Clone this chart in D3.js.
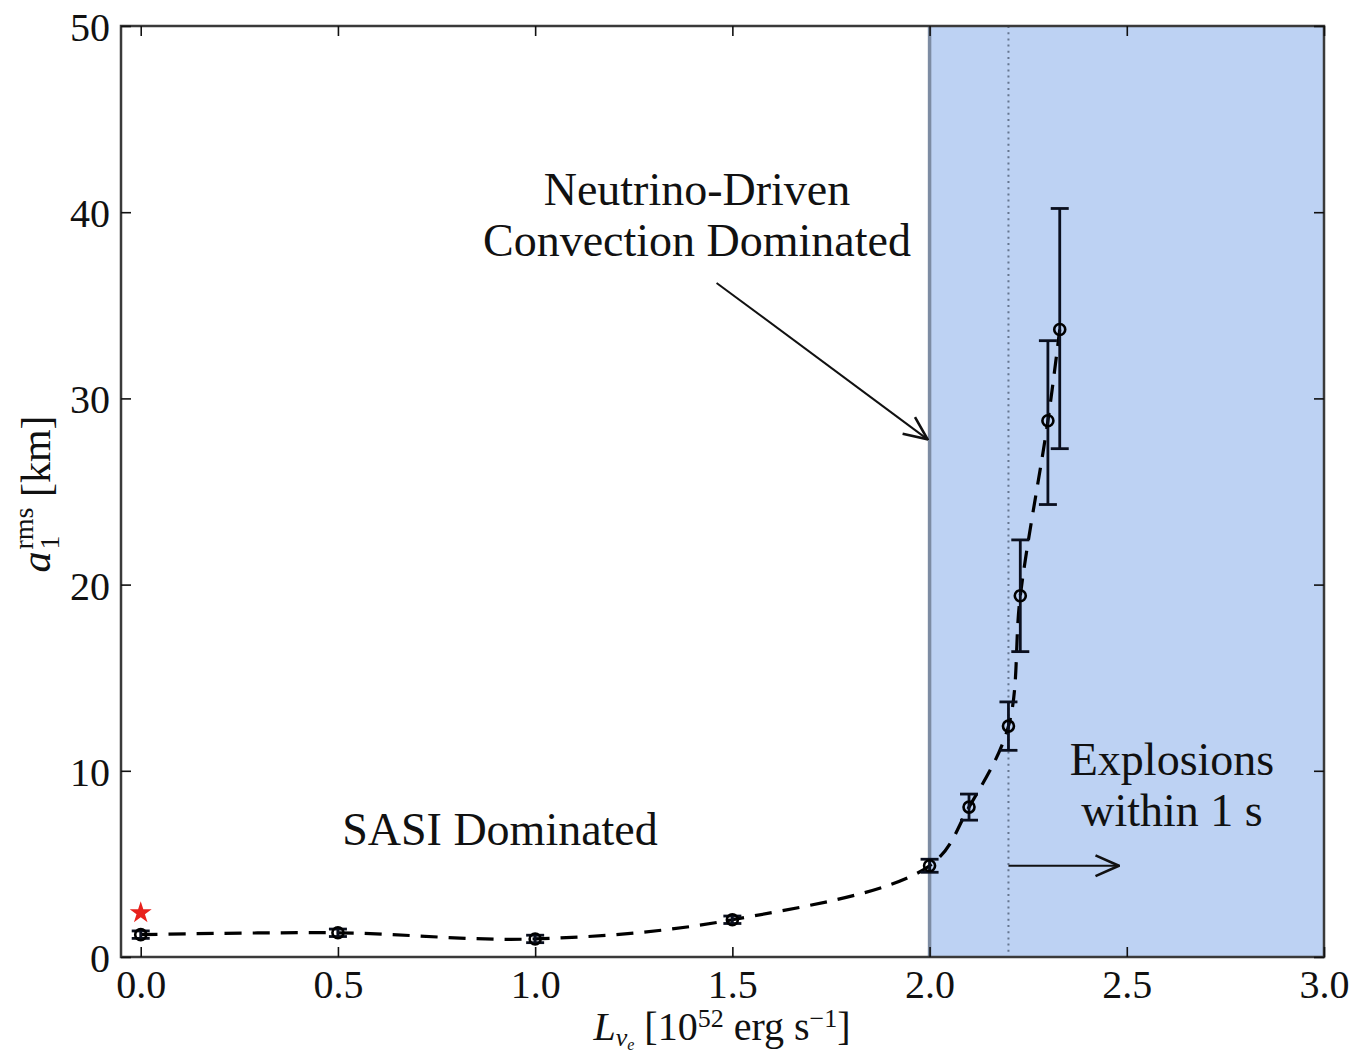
<!DOCTYPE html>
<html>
<head>
<meta charset="utf-8">
<script src="https://cdn.jsdelivr.net/npm/d3@7"></script>
<style>
  html, body { margin: 0; padding: 0; background: #fff; }
  svg { display: block; }
  text { font-family: "Liberation Serif", "DejaVu Serif", serif; fill: #111; }
</style>
</head>
<body>
<svg id="chart" width="1358" height="1057"></svg>
<script>
// ---- data ----
const luminosity = [0.0, 0.5, 1.0, 1.5, 2.0, 2.1, 2.2, 2.23, 2.3, 2.33];
const a1rms      = [1.2, 1.3, 0.97, 2.0, 4.9, 8.05, 12.4, 19.4, 28.8, 33.7];
const errLow     = [0.2, 0.2, 0.2, 0.2, 0.35, 0.7, 1.3, 3.0, 4.5, 6.4];
const errHigh    = [0.2, 0.2, 0.2, 0.2, 0.35, 0.7, 1.3, 3.0, 4.3, 6.5];
const starPoint  = [0.0, 2.37];
const xTicks = [0.0, 0.5, 1.0, 1.5, 2.0, 2.5, 3.0];
const yTicks = [0, 10, 20, 30, 40, 50];
const shadeRange = [2.0, 3.0];
const thresholdLine = 2.2;
const annotNeutrinoText = ["Neutrino-Driven", "Convection Dominated"];
const annotNeutrinoArrow = {from: [1.46, 36.2], to: [1.995, 27.8]};
const annotSASI = "SASI Dominated";
const annotExplosion = ["Explosions", "within 1 s"];
const explosionArrow = {from: [2.2, 4.9], to: [2.48, 4.9]};

// ---- layout ----
const svg = d3.select("#chart");
const x = d3.scaleLinear().domain([-0.05, 3.0]).range([121, 1324]);
const y = d3.scaleLinear().domain([0, 50]).range([957, 26]);
const [x0, x1] = x.range();
const [y0, y1] = y.range();

// arrow marker
const defs = svg.append("defs");
defs.append("marker")
  .attr("id", "arrowOpen")
  .attr("viewBox", "0 0 20 20")
  .attr("refX", 19).attr("refY", 10)
  .attr("markerWidth", 26).attr("markerHeight", 26)
  .attr("markerUnits", "userSpaceOnUse")
  .attr("orient", "auto")
  .append("path")
  .attr("d", "M1,2 L19,10 L1,18")
  .attr("fill", "none").attr("stroke", "#111").attr("stroke-width", 2);

// shaded region
svg.append("rect")
  .attr("x", x(shadeRange[0])).attr("y", y1)
  .attr("width", x(shadeRange[1]) - x(shadeRange[0]))
  .attr("height", y0 - y1)
  .attr("fill", "#bdd2f3");

// vertical solid line at 2.0
svg.append("line")
  .attr("x1", x(shadeRange[0])).attr("x2", x(shadeRange[0]))
  .attr("y1", y1).attr("y2", y0)
  .attr("stroke", "#7d8ca3").attr("stroke-width", 3.5);

// dotted line at 2.2
svg.append("line")
  .attr("x1", x(thresholdLine)).attr("x2", x(thresholdLine))
  .attr("y1", y1).attr("y2", y0)
  .attr("stroke", "#66768f").attr("stroke-width", 2)
  .attr("stroke-dasharray", "2,4.2");

// data
const data = luminosity.map((l, i) => ({l, v: a1rms[i], lo: errLow[i], hi: errHigh[i]}));

// dashed curve
const line = d3.line().x(d => x(d.l)).y(d => y(d.v)).curve(d3.curveCatmullRom.alpha(0.5));
svg.append("path")
  .datum(data)
  .attr("d", line)
  .attr("fill", "none").attr("stroke", "#000")
  .attr("stroke-width", 3.2)
  .attr("stroke-dasharray", "17,11");

// error bars
const eb = svg.append("g").attr("stroke", "#0a0f1e").attr("stroke-width", 2.8);
data.forEach(d => {
  eb.append("line").attr("x1", x(d.l)).attr("x2", x(d.l))
    .attr("y1", y(d.v - d.lo)).attr("y2", y(d.v + d.hi));
  [d.v - d.lo, d.v + d.hi].forEach(c => {
    eb.append("line").attr("x1", x(d.l) - 9).attr("x2", x(d.l) + 9)
      .attr("y1", y(c)).attr("y2", y(c));
  });
});

// markers
svg.append("g").selectAll("circle").data(data).join("circle")
  .attr("cx", d => x(d.l)).attr("cy", d => y(d.v)).attr("r", 5.5)
  .attr("fill", "none").attr("stroke", "#000").attr("stroke-width", 2.6);

// red star
svg.append("path")
  .attr("d", d3.symbol().type(d3.symbolStar).size(150)())
  .attr("transform", `translate(${x(starPoint[0])},${y(starPoint[1])})`)
  .attr("fill", "#e8211c");

// spines
svg.append("rect")
  .attr("x", x0).attr("y", y1).attr("width", x1 - x0).attr("height", y0 - y1)
  .attr("fill", "none").attr("stroke", "#3a3a3a").attr("stroke-width", 2.5);

// axes (inward ticks)
function styleAxis(g) {
  g.select(".domain").remove();
  g.selectAll(".tick line").attr("stroke", "#111").attr("stroke-width", 1.6);
  g.selectAll(".tick text")
    .attr("font-family", "'Liberation Serif', serif")
    .attr("font-size", 40).attr("fill", "#222");
}
svg.append("g").attr("transform", `translate(0,${y0})`)
  .call(d3.axisBottom(x).tickValues(xTicks).tickFormat(d3.format(".1f"))
    .tickSizeInner(-10).tickSizeOuter(0).tickPadding(12))
  .call(styleAxis)
  .call(g => g.selectAll(".tick text").attr("dy", "0.72em"));
svg.append("g").attr("transform", `translate(0,${y1})`)
  .call(d3.axisTop(x).tickValues(xTicks).tickFormat("").tickSizeInner(-10).tickSizeOuter(0))
  .call(styleAxis);
svg.append("g").attr("transform", `translate(${x0},0)`)
  .call(d3.axisLeft(y).tickValues(yTicks).tickFormat(d3.format("d"))
    .tickSizeInner(-10).tickSizeOuter(0).tickPadding(11))
  .call(styleAxis)
  .call(g => g.selectAll(".tick text").attr("dy", "0.36em"));
svg.append("g").attr("transform", `translate(${x1},0)`)
  .call(d3.axisRight(y).tickValues(yTicks).tickFormat("").tickSizeInner(-10).tickSizeOuter(0))
  .call(styleAxis);

// annotations
const fs = 46;
const nd = svg.append("text").attr("text-anchor", "middle").attr("font-size", fs).attr("fill", "#222");
nd.append("tspan").attr("x", 697).attr("y", 205).text(annotNeutrinoText[0]);
nd.append("tspan").attr("x", 697).attr("y", 256).text(annotNeutrinoText[1]);
svg.append("line")
  .attr("x1", x(annotNeutrinoArrow.from[0])).attr("y1", y(annotNeutrinoArrow.from[1]))
  .attr("x2", x(annotNeutrinoArrow.to[0])).attr("y2", y(annotNeutrinoArrow.to[1]))
  .attr("stroke", "#111").attr("stroke-width", 2).attr("marker-end", "url(#arrowOpen)");

svg.append("text").attr("text-anchor", "middle").attr("font-size", fs).attr("fill", "#222")
  .attr("x", 500).attr("y", 845).text(annotSASI);

const ex = svg.append("text").attr("text-anchor", "middle").attr("font-size", fs).attr("fill", "#1a1f33");
ex.append("tspan").attr("x", 1172).attr("y", 775).text(annotExplosion[0]);
ex.append("tspan").attr("x", 1172).attr("y", 826).text(annotExplosion[1]);
svg.append("line")
  .attr("x1", x(explosionArrow.from[0])).attr("y1", y(explosionArrow.from[1]))
  .attr("x2", x(explosionArrow.to[0])).attr("y2", y(explosionArrow.to[1]))
  .attr("stroke", "#111").attr("stroke-width", 2).attr("marker-end", "url(#arrowOpen)");

// axis labels
const xl = svg.append("text").attr("text-anchor", "middle").attr("font-size", 40)
  .attr("x", 722).attr("y", 1040).attr("fill", "#222");
xl.append("tspan").attr("font-style", "italic").text("L");
xl.append("tspan").attr("font-style", "italic").attr("font-size", 26).attr("dy", 6).text("ν");
xl.append("tspan").attr("font-style", "italic").attr("font-size", 16).attr("dy", 4).text("e");
xl.append("tspan").attr("dy", -10).text(" [10");
xl.append("tspan").attr("font-size", 26).attr("dy", -13).text("52");
xl.append("tspan").attr("dy", 13).text(" erg s");
xl.append("tspan").attr("font-size", 26).attr("dy", -13).text("−1");
xl.append("tspan").attr("dy", 13).text("]");

const yl = svg.append("text").attr("text-anchor", "middle").attr("font-size", 42)
  .attr("transform", "translate(50,494) rotate(-90)").attr("fill", "#222");
yl.append("tspan").attr("font-style", "italic").text("a");
yl.append("tspan").attr("font-size", 28).attr("dy", 9).attr("dx", 2).text("1");
yl.append("tspan").attr("font-size", 28).attr("dy", -26).attr("dx", -14).text("rms");
yl.append("tspan").attr("dy", 17).text(" [km]");
</script>
</body>
</html>
